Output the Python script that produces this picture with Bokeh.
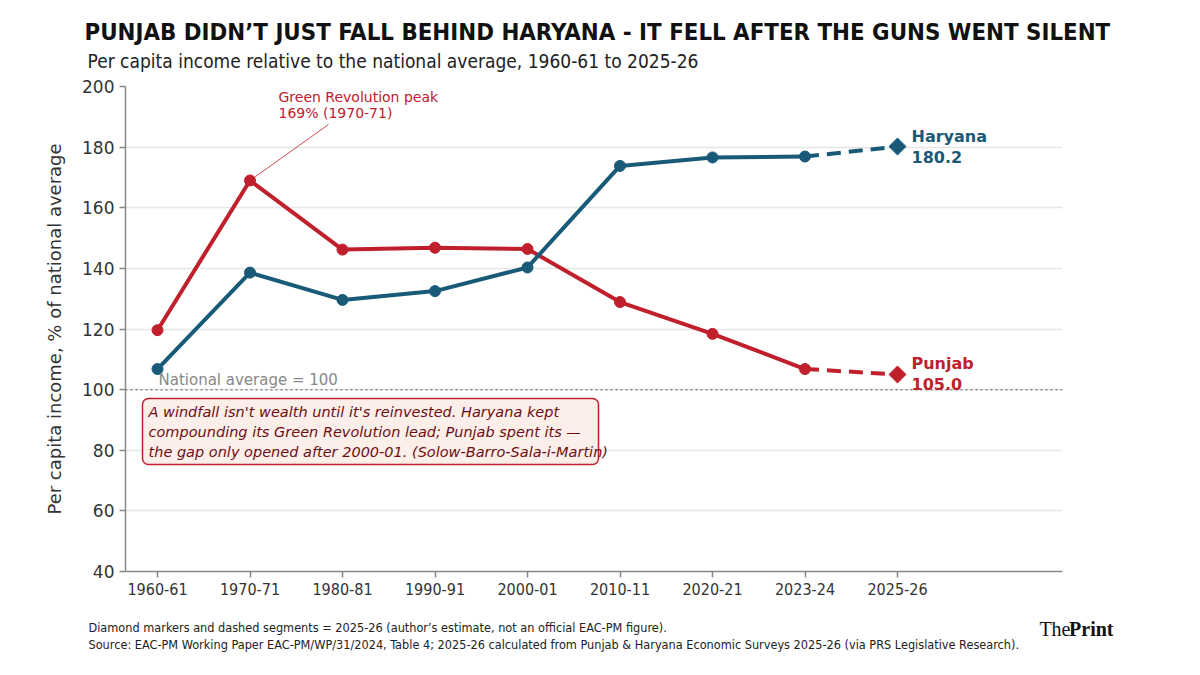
from bokeh.plotting import figure
from bokeh.models import Label, Range1d, FixedTicker, Span, BoxAnnotation, Title
from bokeh.embed import file_html
from bokeh.resources import INLINE

periods = ["1960-61", "1970-71", "1980-81", "1990-91", "2000-01", "2010-11", "2020-21", "2023-24", "2025-26"]
punjab = [119.6, 169.0, 146.2, 146.8, 146.4, 128.9, 118.4, 106.8, 105.0]
haryana = [106.8, 138.6, 129.6, 132.5, 140.3, 173.8, 176.6, 176.9, 180.2]
y_ticks = [40, 60, 80, 100, 120, 140, 160, 180, 200]

RED = "#C0202B"
TEAL = "#185A77"
COND = "DejaVu Sans Condensed"
W, H = 1200, 675
FL, FR, FT, FB = 125, 1062, 86, 571  # frame in page pixels
XMIN = -32 / 92.5
XMAX = XMIN + (FR - FL) / 92.5
YMIN, YMAX = 40, 200


def dx(px):
    return XMIN + (px - FL) / (FR - FL) * (XMAX - XMIN)


def dy(py):
    return YMAX - (py - FT) / (FB - FT) * (YMAX - YMIN)


p = figure(width=W, height=H, output_backend="svg", toolbar_location=None,
           x_range=Range1d(XMIN, XMAX), y_range=Range1d(YMIN, YMAX),
           min_border_left=FL, min_border_right=W - FR, min_border_top=FT,
           min_border_bottom=H - FB, title_location=None)
p.outline_line_color = None
p.xgrid.grid_line_color = None
p.ygrid.grid_line_color = "#e6e6e6"
p.ygrid.grid_line_width = 1.5
p.background_fill_color = "white"
p.border_fill_color = "white"

xs = list(range(len(periods)))
p.xaxis.ticker = FixedTicker(ticks=xs)
p.xaxis.major_label_overrides = {i: s for i, s in enumerate(periods)}
p.yaxis.ticker = FixedTicker(ticks=y_ticks)
for ax in (p.xaxis[0], p.yaxis[0]):
    ax.axis_line_color = "#888888"
    ax.axis_line_width = 1.5
    ax.major_tick_line_color = "#888888"
    ax.major_tick_line_width = 1.5
    ax.major_tick_out = 6
    ax.major_tick_in = 0
    ax.minor_tick_line_color = None
    ax.major_label_text_color = "#333333"
p.xaxis.major_label_text_font = COND
p.xaxis.major_label_text_font_size = "16px"
p.yaxis.major_label_text_font = "DejaVu Sans"
p.yaxis.major_label_text_font_size = "17px"
p.yaxis.axis_label = "Per capita income, % of national average"
p.yaxis.axis_label_text_font = "DejaVu Sans"
p.yaxis.axis_label_text_font_style = "normal"
p.yaxis.axis_label_text_font_size = "18px"
p.yaxis.axis_label_text_color = "#333333"
p.yaxis.axis_label_standoff = 14

p.add_layout(Span(location=100, dimension="width", line_color="#888888",
                  line_dash="2 3", line_width=1.5))
p.add_layout(Label(x=dx(158), y=dy(379), text="National average = 100",
                   text_font="DejaVu Sans", text_font_size="15px",
                   text_color="#888888", text_baseline="middle"))

for vals, col in ((punjab, RED), (haryana, TEAL)):
    p.line(xs[:8], vals[:8], line_color=col, line_width=4)
    p.line(xs[7:], vals[7:], line_color=col, line_width=4, line_dash="14 8")
    p.scatter(xs[:8], vals[:8], marker="circle", size=11, fill_color=col, line_color=col)
    p.scatter(xs[8:], vals[8:], marker="square", size=12, angle=0.7854,
              fill_color=col, line_color=col)

for name, vals, col, py in (("Haryana", haryana, TEAL, 136), ("Punjab", punjab, RED, 363)):
    p.add_layout(Label(x=dx(911), y=dy(py), text=name, text_font="DejaVu Sans",
                       text_font_size="16px", text_font_style="bold", text_color=col,
                       text_baseline="middle"))
    p.add_layout(Label(x=dx(911), y=dy(py + 20), text=f"{vals[-1]:.1f}", text_font="DejaVu Sans",
                       text_font_size="16px", text_font_style="bold", text_color=col,
                       text_baseline="middle"))

p.line([xs[1], dx(328)], [punjab[1], dy(124)], line_color=RED, line_width=1, line_alpha=0.8)
p.add_layout(Label(x=dx(278), y=dy(96), text="Green Revolution peak", text_font="DejaVu Sans",
                   text_font_size="14px", text_color=RED, text_baseline="middle"))
p.add_layout(Label(x=dx(278), y=dy(112), text="169% (1970-71)", text_font="DejaVu Sans",
                   text_font_size="14px", text_color=RED, text_baseline="middle"))

p.add_layout(BoxAnnotation(left=dx(142), right=dx(598), top=dy(398), bottom=dy(464),
                           fill_color="#FCEEE9", fill_alpha=1, line_color=RED,
                           line_alpha=1, line_width=1.5, border_radius=6))
box_lines = ["A windfall isn't wealth until it's reinvested. Haryana kept",
             "compounding its Green Revolution lead; Punjab spent its \u2014",
             "the gap only opened after 2000-01. (Solow-Barro-Sala-i-Martin)"]
for i, t in enumerate(box_lines):
    p.add_layout(Label(x=dx(148), y=dy(411 + 20 * i), text=t, text_font="DejaVu Sans",
                       text_font_size="14.5px", text_font_style="italic", text_color="#6E0E14",
                       text_baseline="middle"))

# ---------- titles (above, nearest the frame first) ----------
p.add_layout(Title(text="Per capita income relative to the national average, 1960-61 to 2025-26",
                   align="left", offset=87 - FL, standoff=29, text_font=COND,
                   text_font_size="19px", text_font_style="normal", text_color="#222222"), "above")
p.add_layout(Title(text="PUNJAB DIDN\u2019T JUST FALL BEHIND HARYANA - IT FELL AFTER THE GUNS WENT SILENT",
                   align="left", offset=84 - FL, standoff=-24, text_font=COND,
                   text_font_size="23.8px", text_font_style="bold", text_color="#111111"), "above")

# ---------- footer (below, after the x axis; zero-height boxes, shifted by standoff) ----------
p.add_layout(Title(text="Diamond markers and dashed segments = 2025-26 (author\u2019s estimate, not an official EAC-PM figure).",
                   align="left", offset=88 - FL, standoff=-75, text_font=COND,
                   text_font_size="12.6px", text_font_style="normal", text_color="#222222"), "below")
p.add_layout(Title(text="Print", align="right", offset=FR - 1113, standoff=-85,
                   text_font="Liberation Serif", text_font_size="20px",
                   text_font_style="bold", text_color="#111111"), "below")
p.add_layout(Title(text="The", align="right", offset=FR - 1070, standoff=-85,
                   text_font="Liberation Serif", text_font_size="20px",
                   text_font_style="normal", text_color="#111111"), "below")
p.add_layout(Title(text="Source: EAC-PM Working Paper EAC-PM/WP/31/2024, Table 4; 2025-26 calculated from Punjab & Haryana Economic Surveys 2025-26 (via PRS Legislative Research).",
                   align="left", offset=88 - FL, standoff=-109, text_font=COND,
                   text_font_size="12.6px", text_font_style="normal", text_color="#222222"), "below")

open("out.html", "w").write(file_html(p, INLINE))
